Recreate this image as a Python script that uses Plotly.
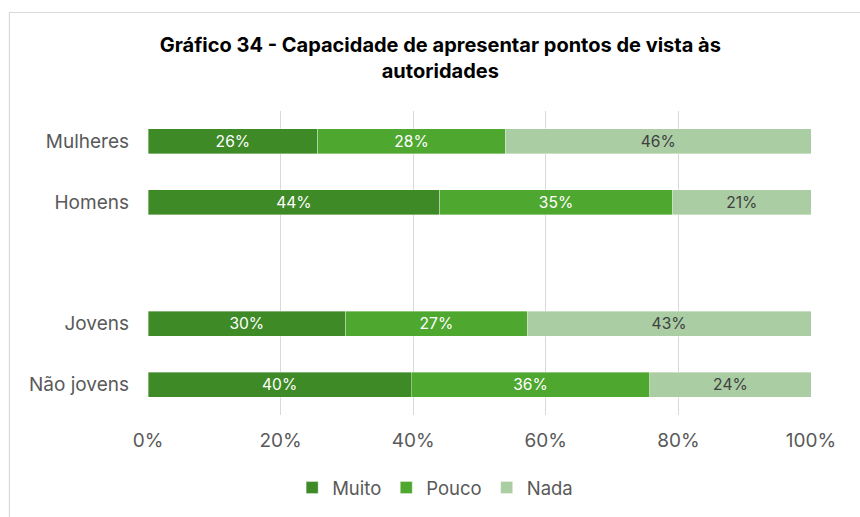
import plotly.graph_objects as go

# Survey groups (a blank row separates sex from age groups)
categories = ["Mulheres", "Homens", " ", "Jovens", "Não jovens"]
series_names = ["Muito", "Pouco", "Nada"]
muito = [25.6, 44.0, None, 29.8, 39.7]
pouco = [28.3, 35.1, None, 27.4, 36.0]
nada = [46.1, 20.9, None, 42.8, 24.3]
tick_values = [0, 20, 40, 60, 80, 100]
tick_labels = ["0%", "20%", "40%", "60%", "80%", "100%"]

colors = ["#3E8A27", "#4EA72E", "#AACDA3"]
label_colors = ["#FFFFFF", "#FFFFFF", "#404040"]
FONT = "Inter, Noto Sans, sans-serif"

fig = go.Figure()
for name, vals, col, lcol in zip(series_names, [muito, pouco, nada], colors, label_colors):
    fig.add_trace(go.Bar(
        name=name,
        y=categories,
        x=vals,
        orientation="h",
        marker=dict(color=col, line=dict(color="rgba(255,255,255,0.6)", width=0.6)),
        width=0.41,
        text=[None if v is None else f"{v:.0f}%" for v in vals],
        textposition="inside",
        insidetextanchor="middle",
        textangle=0,
        textfont=dict(family=FONT, size=16.5, color=lcol),
        hoverinfo="skip",
    ))

fig.update_layout(
    barmode="stack",
    width=860,
    height=517,
    margin=dict(l=148, r=49, t=111, b=102),
    paper_bgcolor="white",
    plot_bgcolor="white",
    font=dict(family=FONT, color="#595959"),
    uniformtext=dict(minsize=10, mode="show"),
    title=dict(
        text="<b>Gráfico 34 - Capacidade de apresentar pontos de vista às<br>autoridades</b>",
        x=0.512, xanchor="center", xref="container",
        y=0.899, yanchor="middle", yref="container",
        font=dict(family=FONT, size=20, color="#000000"),
    ),
    xaxis=dict(
        range=[0, 100],
        tickvals=tick_values,
        ticktext=tick_labels,
        showgrid=True,
        gridcolor="#D9D9D9",
        gridwidth=1,
        zeroline=False,
        showline=False,
        ticks="",
        tickfont=dict(family=FONT, size=19, color="#595959"),
        ticklabelstandoff=12,
    ),
    yaxis=dict(
        categoryorder="array",
        categoryarray=categories,
        autorange="reversed",
        showgrid=False,
        zeroline=False,
        ticks="",
        tickfont=dict(family=FONT, size=19, color="#595959"),
        ticklabelstandoff=18,
    ),
    legend=dict(
        orientation="h",
        xref="container", yref="container",
        x=0.506, xanchor="center",
        y=0.056, yanchor="middle",
        font=dict(family=FONT, size=18.5, color="#595959"),
        itemwidth=30,
        traceorder="normal",
    ),
    shapes=[dict(
        type="rect", xref="paper", yref="paper",
        x0=-0.209, x1=1.2, y0=-0.5, y1=1.324,
        line=dict(color="#D9D9D9", width=1.2),
        fillcolor="rgba(0,0,0,0)",
        layer="below",
    )],
)

fig.write_html("out.html")
